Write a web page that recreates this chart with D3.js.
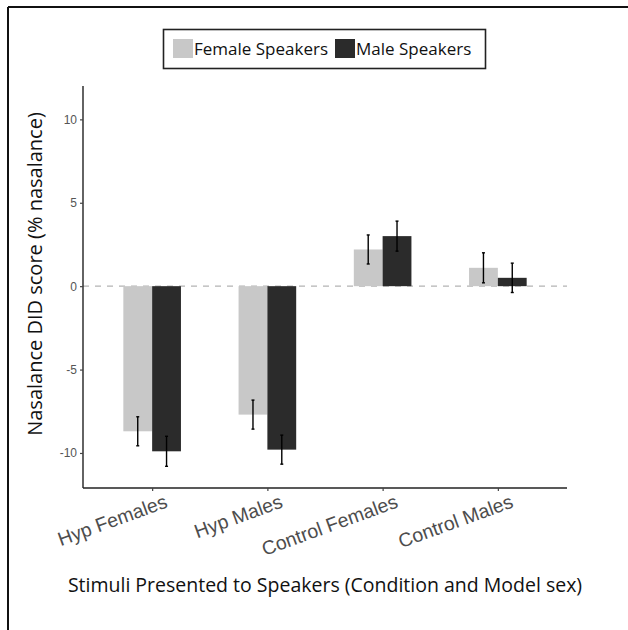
<!DOCTYPE html>
<html>
<head>
<meta charset="utf-8">
<script src="https://cdnjs.cloudflare.com/ajax/libs/d3/7.8.5/d3.min.js"></script>
<style>
  body { margin: 0; background: #fff; }
  svg { display: block; font-family: "Open Sans", sans-serif; }
</style>
</head>
<body>
<div id="chart"></div>
<script>
// stimuli groups and speaker sex
const categories = ["Hyp Females", "Hyp Males", "Control Females", "Control Males"];
const speakers = ["Female Speakers", "Male Speakers"];
const femaleMeans = [-8.7, -7.7, 2.2, 1.1];
const maleMeans = [-9.9, -9.8, 3.0, 0.5];
const femaleErr = [0.87, 0.87, 0.87, 0.9];
const maleErr = [0.9, 0.87, 0.9, 0.88];
const yTicks = [-10, -5, 0, 5, 10];

const width = 628, height = 630;
const colors = {"Female Speakers": "#c8c8c8", "Male Speakers": "#2b2b2b"};

const svg = d3.select("#chart").append("svg")
    .attr("width", width)
    .attr("height", height);

// frame (only top and left edges show in the crop)
svg.append("line").attr("x1", 8).attr("x2", width).attr("y1", 7).attr("y2", 7)
    .attr("stroke", "#111").attr("stroke-width", 2);
svg.append("line").attr("x1", 8).attr("x2", 8).attr("y1", 7).attr("y2", height)
    .attr("stroke", "#111").attr("stroke-width", 2);

const pLeft = 83, pRight = 567, pTop = 86, pBottom = 488;

// ggplot style: 0.6 of a step of expansion either side
const x = d3.scalePoint().domain(categories).range([pLeft, pRight]).padding(0.6);
const barW = x.step() * 0.25;

const y = d3.scaleLinear().domain([-12.1, 12.0]).range([pBottom, pTop]);

const data = [];
categories.forEach((c, i) => {
    data.push({cat: c, sp: speakers[0], v: femaleMeans[i], e: femaleErr[i], k: 0});
    data.push({cat: c, sp: speakers[1], v: maleMeans[i], e: maleErr[i], k: 1});
});

// zero line
svg.append("line")
    .attr("x1", pLeft).attr("x2", pRight)
    .attr("y1", y(0)).attr("y2", y(0))
    .attr("stroke", "#b4b4b4").attr("stroke-width", 1.3)
    .attr("stroke-dasharray", "6,6");

// bars
svg.selectAll("rect.bar").data(data).enter().append("rect")
    .attr("class", "bar")
    .attr("x", d => x(d.cat) - barW + d.k * barW)
    .attr("width", barW)
    .attr("y", d => y(Math.max(0, d.v)))
    .attr("height", d => Math.abs(y(d.v) - y(0)))
    .attr("fill", d => colors[d.sp]);

// error bars
const ex = d => x(d.cat) - barW / 2 + d.k * barW;
const eb = svg.selectAll("g.err").data(data).enter().append("g").attr("class", "err");
eb.append("line")
    .attr("x1", ex).attr("x2", ex)
    .attr("y1", d => y(d.v + d.e)).attr("y2", d => y(d.v - d.e))
    .attr("stroke", "#000").attr("stroke-width", 1.4);
[1, -1].forEach(s => {
    eb.append("line")
        .attr("x1", d => ex(d) - 1.5)
        .attr("x2", d => ex(d) + 1.5)
        .attr("y1", d => y(d.v + s * d.e)).attr("y2", d => y(d.v + s * d.e))
        .attr("stroke", "#000").attr("stroke-width", 1.4);
});

// y axis
const yAxis = svg.append("g")
    .attr("transform", `translate(${pLeft},0)`)
    .call(d3.axisLeft(y).tickValues(yTicks).tickSize(3).tickPadding(3).tickFormat(d => String(d)));
yAxis.select(".domain").attr("stroke", "#222").attr("stroke-width", 1.4).attr("d", `M0,${pTop}V${pBottom}`);
yAxis.selectAll(".tick line").attr("stroke", "#444").attr("stroke-width", 1.2);
yAxis.selectAll(".tick text").attr("fill", "#555").style("font-size", "12px");

// x axis
const xAxis = svg.append("g")
    .attr("transform", `translate(0,${pBottom})`)
    .call(d3.axisBottom(x).tickSize(3).tickPadding(0));
xAxis.select(".domain").attr("stroke", "#222").attr("stroke-width", 1.4).attr("d", `M${pLeft},0H${pRight}`);
xAxis.selectAll(".tick line").attr("stroke", "#444").attr("stroke-width", 1.2);
xAxis.selectAll(".tick text")
    .attr("y", null).attr("dy", null)
    .attr("transform", "translate(16,19) rotate(-20)")
    .attr("text-anchor", "end")
    .attr("fill", "#4d4d4d")
    .style("font-size", "19.5px");

// axis titles
svg.append("text")
    .attr("x", (pLeft + pRight) / 2).attr("y", 592)
    .attr("text-anchor", "middle")
    .attr("fill", "#111")
    .style("font-size", "19.5px")
    .text("Stimuli Presented to Speakers (Condition and Model sex)");

svg.append("text")
    .attr("transform", "translate(42,274) rotate(-90)")
    .attr("text-anchor", "middle")
    .attr("fill", "#111")
    .style("font-size", "20px")
    .text("Nasalance DID score (% nasalance)");

// legend
const lg = svg.append("g");
lg.append("rect").attr("x", 163.5).attr("y", 29.5).attr("width", 322).attr("height", 39)
    .attr("fill", "#fff").attr("stroke", "#222").attr("stroke-width", 1.6);
const items = [{sp: speakers[0], x: 173}, {sp: speakers[1], x: 335}];
items.forEach(it => {
    lg.append("rect").attr("x", it.x).attr("y", 39).attr("width", 20).attr("height", 19)
        .attr("fill", colors[it.sp]);
    lg.append("text").attr("x", it.x + 21).attr("y", 55)
        .attr("fill", "#111")
        .style("font-size", "17px")
        .text(it.sp);
});
</script>
</body>
</html>
